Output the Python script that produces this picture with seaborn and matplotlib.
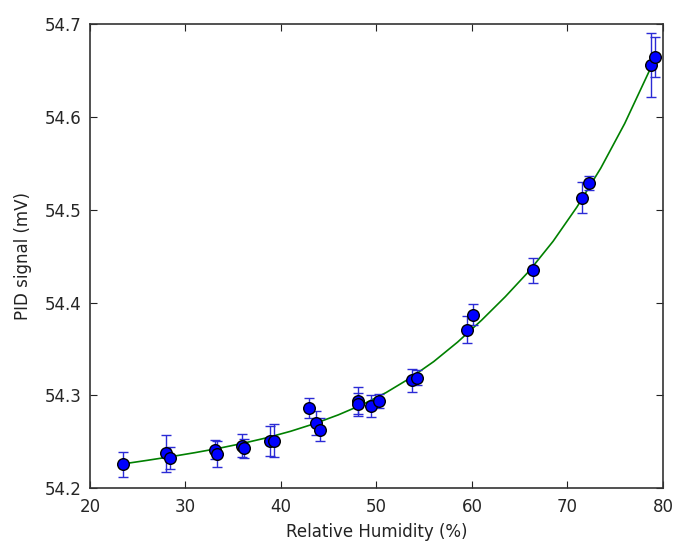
import matplotlib
matplotlib.use("Agg")
import matplotlib.pyplot as plt
import seaborn as sns
import pandas as pd

# Measured PID signal vs relative humidity
humidity = [23.5, 27.97, 28.35, 33.05, 33.3, 35.92, 36.16, 38.88, 39.23,
            42.89, 43.69, 44.11, 48.05, 48.1, 49.45, 50.28, 53.7, 54.23,
            59.52, 60.15, 66.36, 71.55, 72.25, 78.74, 79.16]
signal = [54.2257, 54.2376, 54.2322, 54.2413, 54.2365, 54.2457, 54.2427,
          54.2503, 54.2510, 54.2865, 54.2699, 54.2630, 54.2935, 54.2909,
          54.2884, 54.2935, 54.3163, 54.3188, 54.3707, 54.3870, 54.4348,
          54.5130, 54.5289, 54.6561, 54.6652]
signal_err = [0.0135, 0.020, 0.012, 0.010, 0.0137, 0.012, 0.010, 0.016,
              0.018, 0.011, 0.013, 0.012, 0.0155, 0.011, 0.0116, 0.0076,
              0.0125, 0.008, 0.0145, 0.0115, 0.0135, 0.0167, 0.0076,
              0.0348, 0.0215]

# Fitted calibration curve
fit_humidity = [23.5, 26.0, 28.5, 31.0, 33.5, 36.0, 38.5, 41.0, 43.5, 46.0,
                48.5, 51.0, 53.5, 56.0, 58.5, 61.0, 63.5, 66.0, 68.5, 71.0,
                73.5, 76.0, 78.5, 79.2]
fit_signal = [54.2260, 54.2298, 54.2338, 54.2381, 54.2428, 54.2481, 54.2541,
              54.2611, 54.2693, 54.2788, 54.2898, 54.3028, 54.3183, 54.3363,
              54.3573, 54.3808, 54.4063, 54.4340, 54.4660, 54.5030, 54.5450,
              54.5930, 54.6480, 54.6640]

x_ticks = [20, 30, 40, 50, 60, 70, 80]
y_ticks = [54.2, 54.3, 54.4, 54.5, 54.6, 54.7]

sns.set_style("ticks")
plt.rcParams["font.family"] = ["DejaVu Sans"]
plt.rcParams["xtick.direction"] = "in"
plt.rcParams["ytick.direction"] = "in"

meas = pd.DataFrame({"rh": humidity, "pid": signal, "err": signal_err})
fit = pd.DataFrame({"rh": fit_humidity, "pid": fit_signal})

fig = plt.figure(figsize=(6.74, 5.44), dpi=100)
ax = fig.add_axes([0.1335, 0.103, 0.850, 0.8523])

sns.lineplot(data=fit, x="rh", y="pid", ax=ax, color=(0, 0.5, 0),
             linewidth=1.2, zorder=1, sort=True)
ax.errorbar(meas["rh"], meas["pid"], yerr=meas["err"], fmt="none",
            ecolor="#2b2bd6", elinewidth=1.0, capsize=3.5, capthick=1.0,
            zorder=2)
sns.scatterplot(data=meas, x="rh", y="pid", ax=ax, color="#0000ff",
                edgecolor="black", linewidth=1.0, s=70, zorder=3)

ax.set_xlim(20, 80)
ax.set_ylim(54.2, 54.7)
ax.set_xticks(x_ticks)
ax.set_yticks(y_ticks)
ax.set_xticklabels([str(t) for t in x_ticks])
ax.set_yticklabels([f"{t:.1f}" for t in y_ticks])
ax.tick_params(axis="both", which="major", direction="in", length=5,
               width=0.8, color="#222222", labelsize=12, pad=6,
               top=True, right=True)
ax.tick_params(axis="x", pad=7)
for side in ax.spines.values():
    side.set_visible(True)
    side.set_color("#333333")
    side.set_linewidth(1.2)

ax.set_xlabel("Relative Humidity (%)", fontsize=12, color="#222222",
              labelpad=5)
ax.set_ylabel("PID signal (mV)", fontsize=12, color="#222222",
              labelpad=9)

fig.savefig("out.png", dpi=100, facecolor="white")
